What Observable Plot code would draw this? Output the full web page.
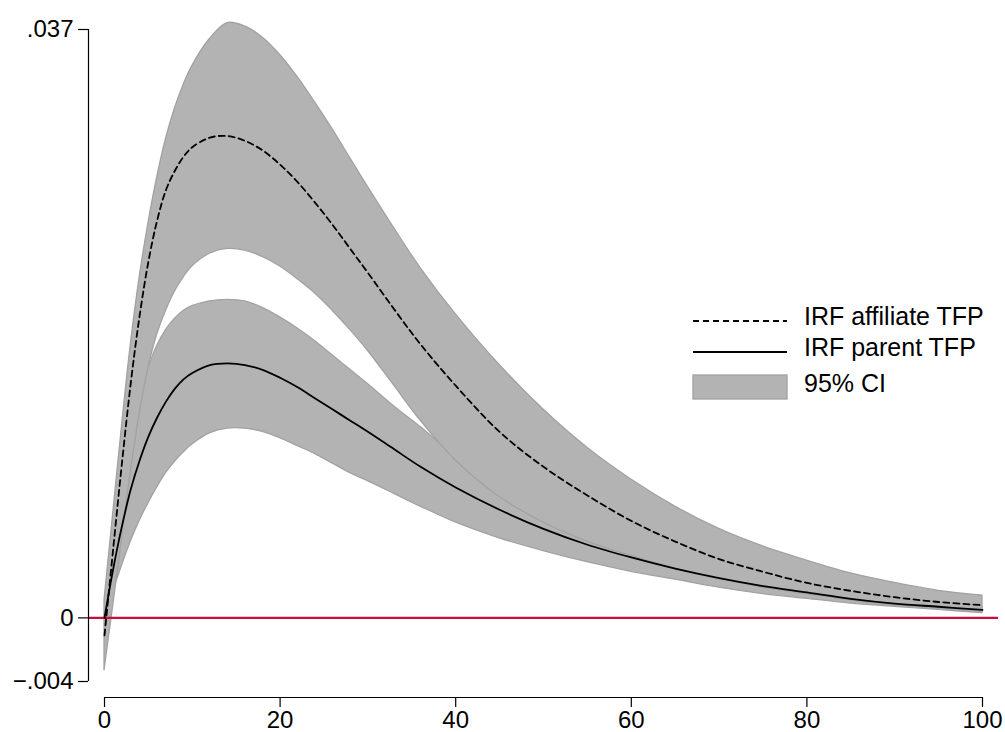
<!DOCTYPE html>
<html>
<head>
<meta charset="utf-8">
<script src="https://cdn.jsdelivr.net/npm/d3@7"></script>
<script src="https://cdn.jsdelivr.net/npm/@observablehq/plot@0.6"></script>
<style>
  body { margin: 0; background: #fff; font-family: "Liberation Sans", Arial, sans-serif; }
  #chart { position: relative; width: 1005px; height: 732px; }
  #legend { position: absolute; left: 0; top: 0; pointer-events: none; }
</style>
</head>
<body>
<div id="chart"></div>
<script>
// Horizon (periods after the shock)
const horizon = [0,1,2,3,4,5,6,7,8,9,10,12,14,16,18,20,22,24,26,28,30,33,36,40,45,50,55,60,65,70,75,80,85,90,95,100];

// Impulse response of affiliate TFP and its 95% confidence bounds
const affiliate   = [-0.0011,0.0044,0.0098,0.0148,0.0190,0.0224,0.0250,0.0269,0.0281,0.0290,0.0296,0.0302,0.0303,0.0300,0.0294,0.0285,0.0274,0.0261,0.0247,0.0232,0.0217,0.0194,0.0172,0.0146,0.0117,0.0095,0.0077,0.0061,0.0048,0.0037,0.0029,0.0022,0.0017,0.0013,0.0010,0.0008];
const affiliateHi = [0.0011,0.0066,0.0121,0.0172,0.0214,0.0248,0.0277,0.0301,0.0320,0.0335,0.0347,0.0364,0.0374,0.0372,0.0365,0.0354,0.0340,0.0324,0.0307,0.0289,0.0271,0.0245,0.0220,0.0191,0.0159,0.0131,0.0107,0.0087,0.0070,0.0056,0.0045,0.0036,0.0028,0.0022,0.0017,0.0014];
const affiliateLo = [-0.0033,0.0008,0.0050,0.0092,0.0128,0.0157,0.0178,0.0193,0.0205,0.0214,0.0221,0.0229,0.0232,0.0231,0.0227,0.0221,0.0213,0.0204,0.0193,0.0181,0.0168,0.0146,0.0124,0.0099,0.0076,0.0060,0.0048,0.0039,0.0031,0.0025,0.0019,0.0015,0.0011,0.0008,0.0006,0.0004];

// Impulse response of parent TFP and its 95% confidence bounds
const parent   = [0.0000,0.0031,0.0058,0.0081,0.0099,0.0114,0.0126,0.0136,0.0144,0.0150,0.0154,0.0159,0.0160,0.0159,0.0156,0.0151,0.0145,0.0138,0.0131,0.0124,0.0117,0.0106,0.0095,0.0082,0.0068,0.0056,0.0046,0.0038,0.0031,0.0025,0.0020,0.0016,0.0012,0.0009,0.0007,0.0005];
const parentHi = [0.0000,0.0045,0.0083,0.0114,0.0138,0.0157,0.0171,0.0181,0.0188,0.0193,0.0196,0.0199,0.0200,0.0199,0.0195,0.0189,0.0182,0.0174,0.0165,0.0156,0.0147,0.0133,0.0120,0.0102,0.0084,0.0069,0.0057,0.0047,0.0038,0.0031,0.0025,0.0020,0.0016,0.0012,0.0009,0.0007];
const parentLo = [0.0000,0.0017,0.0033,0.0048,0.0061,0.0072,0.0082,0.0091,0.0098,0.0104,0.0109,0.0116,0.0119,0.0119,0.0117,0.0113,0.0108,0.0103,0.0097,0.0091,0.0086,0.0078,0.0070,0.0060,0.0050,0.0042,0.0035,0.0029,0.0024,0.0019,0.0015,0.0012,0.0009,0.0007,0.0005,0.0003];

// Axis ticks and their labels
const xTicks = [0, 20, 40, 60, 80, 100];
const yTicks = [-0.004, 0, 0.037];
const yTickLabels = ["\u2212.004", "0", ".037"];

// Legend entries
const legendLabels = ["IRF affiliate TFP", "IRF parent TFP", "95% CI"];

const rows = horizon.map((h, i) => ({
  h,
  aff: affiliate[i], affHi: affiliateHi[i], affLo: affiliateLo[i],
  par: parent[i], parHi: parentHi[i], parLo: parentLo[i]
}));

const bandFill = "#b3b3b3";
const bandStroke = "#a2a2a2";
const curve = "catmull-rom";

const chart = Plot.plot({
  width: 1005,
  height: 732,
  marginLeft: 88,
  marginRight: 7,
  marginTop: 29,
  marginBottom: 35,
  insetLeft: 16,
  insetRight: 16,
  insetBottom: 16,
  x: {domain: [xTicks[0], xTicks[xTicks.length - 1]]},
  y: {domain: [yTicks[0], yTicks[yTicks.length - 1]]},
  style: {
    fontFamily: "'Liberation Sans', Arial, sans-serif",
    fontSize: "24px",
    color: "black",
    background: "white",
    overflow: "visible"
  },
  marks: [
    Plot.areaY(rows, {x: "h", y1: "parLo", y2: "parHi", fill: bandFill, stroke: bandStroke, strokeWidth: 1.3, curve}),
    Plot.areaY(rows, {x: "h", y1: "affLo", y2: "affHi", fill: bandFill, stroke: bandStroke, strokeWidth: 1.3, curve}),
    Plot.ruleY([0], {stroke: "#c80f3c", strokeWidth: 2.3}),
    Plot.line(rows, {x: "h", y: "par", stroke: "black", strokeWidth: 1.8, curve}),
    Plot.line(rows, {x: "h", y: "aff", stroke: "black", strokeWidth: 1.8, strokeDasharray: "6,4", curve}),
    Plot.axisX({ticks: xTicks, tickSize: 10, tickPadding: 3, label: null, tickFormat: d => String(d), strokeWidth: 1.2}),
    Plot.axisY({ticks: yTicks, tickSize: 10, tickPadding: 5, label: null,
      tickFormat: d => yTickLabels[yTicks.indexOf(d)], strokeWidth: 1.2}),
    // axis lines spanning the tick range, offset from the plotting area
    Plot.ruleX([xTicks[0]], {y1: yTicks[0], y2: yTicks[yTicks.length - 1], dx: -16, stroke: "black", strokeWidth: 1.2}),
    Plot.ruleY([yTicks[0]], {x1: xTicks[0], x2: xTicks[xTicks.length - 1], dy: 16, stroke: "black", strokeWidth: 1.2})
  ]
});

const root = document.getElementById("chart");
root.appendChild(chart);

// Legend drawn over the upper right of the chart
const ns = "http://www.w3.org/2000/svg";
const leg = document.createElementNS(ns, "svg");
leg.setAttribute("id", "legend");
leg.setAttribute("width", 1005);
leg.setAttribute("height", 732);
const keyX0 = 693, keyX1 = 787, textX = 804;
const rowsY = [321, 352, 387];
const baselines = [325, 356, 392];
legendLabels.forEach((label, i) => {
  if (i < 2) {
    const l = document.createElementNS(ns, "line");
    l.setAttribute("x1", keyX0); l.setAttribute("x2", keyX1);
    l.setAttribute("y1", rowsY[i]); l.setAttribute("y2", rowsY[i]);
    l.setAttribute("stroke", "black"); l.setAttribute("stroke-width", 1.8);
    if (i === 0) l.setAttribute("stroke-dasharray", "6,4");
    leg.appendChild(l);
  } else {
    const r = document.createElementNS(ns, "rect");
    r.setAttribute("x", keyX0); r.setAttribute("y", 375);
    r.setAttribute("width", keyX1 - keyX0); r.setAttribute("height", 24);
    r.setAttribute("fill", bandFill); r.setAttribute("stroke", bandStroke); r.setAttribute("stroke-width", 1.3);
    leg.appendChild(r);
  }
  const t = document.createElementNS(ns, "text");
  t.setAttribute("x", textX); t.setAttribute("y", baselines[i]);
  t.setAttribute("font-size", 25);
  t.setAttribute("font-family", "'Liberation Sans', Arial, sans-serif");
  t.setAttribute("fill", "black");
  t.textContent = label;
  leg.appendChild(t);
});
root.appendChild(leg);
</script>
</body>
</html>
